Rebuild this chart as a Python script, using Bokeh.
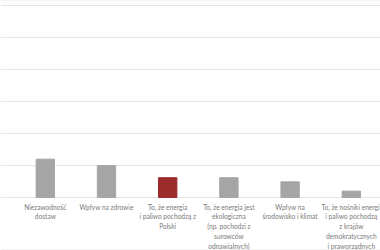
from bokeh.plotting import figure
from bokeh.models import Range1d, FixedTicker, ColumnDataSource, Span
from bokeh.core.properties import value
from bokeh.embed import file_html
from bokeh.resources import INLINE

categories = [
    "Niezawodność\ndostaw",
    "Wpływ na zdrowie",
    "To, że energia\ni paliwo pochodzą z\nPolski",
    "To, że energia jest\nekologiczna\n(np. pochodzi z\nsurowców\nodnawialnych)",
    "Wpływ na\nśrodowisko i klimat",
    "To, że nośniki energii\ni paliwo pochodzą\nz krajów\ndemokratycznych\ni praworządnych",
]
values = [12.0, 10.0, 6.2, 6.2, 4.9, 2.0]
colors = ["#a5a5a5", "#a5a5a5", "#9c2b2b", "#a5a5a5", "#a5a5a5", "#a5a5a5"]
grid_ticks = [0, 10, 20, 30, 40, 50, 60]

idx = list(range(len(categories)))
src = ColumnDataSource(dict(x=idx, top=values, color=colors,
                            label=categories, ly=[-1.6] * len(idx)))

p = figure(width=380, height=250, output_backend="svg", toolbar_location=None,
           x_range=Range1d(-0.732, 5.477), y_range=Range1d(-16.6, 61.72),
           min_border=0, min_border_left=0, min_border_right=0,
           min_border_top=0, min_border_bottom=0)
p.xaxis.visible = False
p.yaxis.visible = False
p.xgrid.visible = False
p.ygrid.ticker = FixedTicker(ticks=grid_ticks)
p.ygrid.grid_line_color = "#e6e6e6"
p.ygrid.grid_line_width = 1
p.outline_line_color = None
p.background_fill_color = "white"
p.border_fill_color = "white"

p.vbar(x="x", top="top", width=0.30, bottom=0, color="color", source=src)

p.text(x="x", y="ly", text="label", source=src,
       text_font=value("Lato"), text_font_size="6.6px",
       text_color="#7a7a7a", text_align="center", text_baseline="top",
       text_line_height=1.22)

for loc in (p.y_range.start + 0.15, p.y_range.end - 0.1):
    p.add_layout(Span(location=loc, dimension="width",
                      line_color="#e6e6e6", line_width=1))

open("out.html", "w").write(file_html(p, INLINE))
